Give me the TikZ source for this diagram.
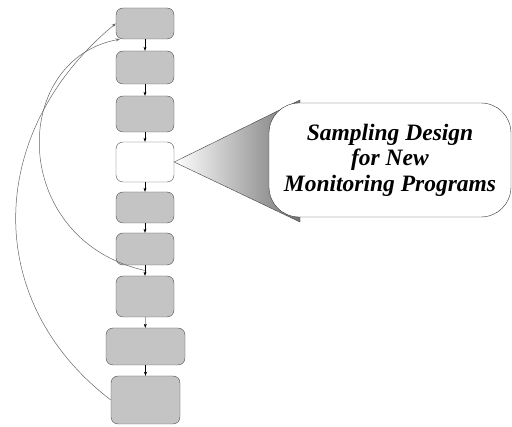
\documentclass[tikz,border=0pt]{standalone}
\usepackage{fontspec}
\setmainfont{Liberation Serif}
\usetikzlibrary{arrows.meta}
\definecolor{boxgray}{gray}{0.77}
\definecolor{linkgray}{gray}{0.4}
\tikzset{
  stage/.style={draw=black!70, fill=boxgray, rounded corners=7pt, inner sep=0pt, minimum width=58pt},
  >={Stealth[length=4pt,width=3pt]}
}

\begin{document}
\begin{tikzpicture}[x=1pt,y=-1pt]
  \useasboundingbox (0,0) rectangle (512,427);
  \node[stage, minimum height=31pt] (b1) at (145,23.5) {};
  \node[stage, minimum height=33pt] (b2) at (145,67.5) {};
  \node[stage, minimum height=36pt] (b3) at (145,114) {};
  \node[stage, fill=white, minimum height=40pt] (b4) at (145,162) {};
  \node[stage, minimum height=31pt] (b5) at (145,207.5) {};
  \node[stage, minimum height=32pt] (b6) at (145,249) {};
  \node[stage, minimum height=41pt] (b7) at (145,296.5) {};
  \node[stage, minimum width=79pt, minimum height=37pt] (b8) at (145.5,346.5) {};
  \node[stage, minimum width=69pt, minimum height=48pt] (b9) at (145.5,400) {};
  \draw[->] (b1) -- (b2);
  \draw[->] (b2) -- (b3);
  \draw[->] (b3) -- (b4);
  \draw[->] (b4) -- (b5);
  \draw[->] (b5) -- (b6);
  \draw[->] (b6) -- (b7);
  \draw[->] (b7) -- (b8);
  \draw[->] (b8) -- (b9);
  \path (b6.south) -- (b7.north) coordinate[pos=0.5] (back);
  \draw[linkgray,line width=0.5pt,->] (back) .. controls (9,240) and (9,60) .. ([xshift=4pt]b1.south west);
  \draw[linkgray,line width=0.5pt,->] (b9.west) .. controls (-20,300) and (-13,130) .. (b1.west);
  \shadedraw[draw=black!75, left color=white, right color=black!55] (b4.east) -- (300,100) -- (300,222) -- cycle;
  \node[draw=black!80, fill=white, rounded corners=30pt, minimum width=242pt, minimum height=114pt,
        align=center, font=\fontsize{23.5}{25.5}\selectfont\bfseries\itshape] (note) at (390,160)
        {Sampling Design\\for New\\Monitoring Programs};
\end{tikzpicture}
\end{document}
